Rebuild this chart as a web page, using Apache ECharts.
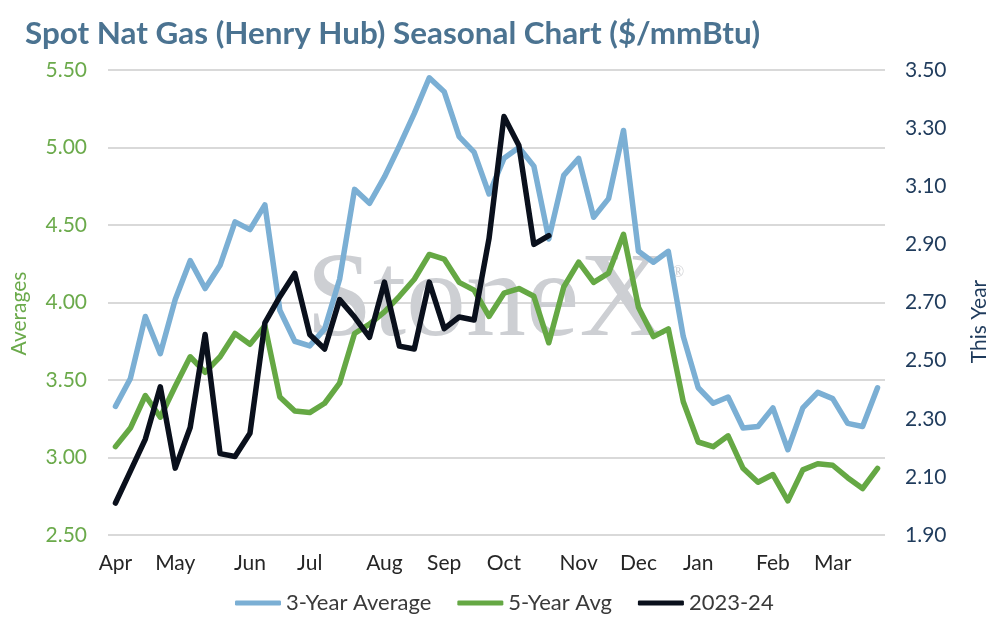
<!DOCTYPE html>
<html><head><meta charset="utf-8">
<script src="https://cdn.jsdelivr.net/npm/echarts@6/dist/echarts.min.js"></script>
<style>html,body{margin:0;padding:0;background:#fff}#c{width:993px;height:617px}</style>
</head><body><div id="c"></div>
<script>
const weekLabels = ['Apr','','','','May','','','','','Jun','','','','Jul','','','','','Aug','','','','Sep','','','','Oct','','','','','Nov','','','','Dec','','','','Jan','','','','','Feb','','','','Mar','','',''];
const threeYearAvg = [3.33,3.51,3.91,3.67,4.02,4.27,4.09,4.24,4.52,4.47,4.63,3.95,3.75,3.72,3.83,4.15,4.73,4.64,4.81,5.01,5.22,5.45,5.36,5.07,4.97,4.70,4.93,5.00,4.88,4.41,4.82,4.93,4.55,4.67,5.11,4.33,4.26,4.33,3.78,3.45,3.35,3.39,3.19,3.20,3.32,3.05,3.32,3.42,3.38,3.22,3.20,3.45];
const fiveYearAvg = [3.07,3.19,3.40,3.26,3.46,3.65,3.55,3.65,3.80,3.73,3.85,3.39,3.30,3.29,3.35,3.48,3.80,3.86,3.94,4.04,4.15,4.31,4.28,4.13,4.08,3.91,4.06,4.09,4.04,3.74,4.10,4.26,4.13,4.19,4.44,3.97,3.78,3.83,3.36,3.10,3.07,3.14,2.93,2.84,2.89,2.72,2.92,2.96,2.95,2.87,2.80,2.93];
const thisYear = [2.01,2.12,2.23,2.41,2.13,2.27,2.59,2.18,2.17,2.25,2.63,2.72,2.80,2.59,2.54,2.71,2.65,2.58,2.77,2.55,2.54,2.77,2.61,2.65,2.64,2.92,3.34,3.24,2.90,2.93];
const seriesNames = ['3-Year Average','5-Year Avg','2023-24'];

const FONT = 'Lato';
const chart = echarts.init(document.getElementById('c'), null, {renderer:'canvas'});
const lineSeries = (name, data, color, axis) => ({
  name, type:'line', data, yAxisIndex: axis, showSymbol:false, symbol:'none',
  lineStyle:{color, width:5.5, cap:'round', join:'round'}, itemStyle:{color}, z: 3 + axis,
  emphasis:{disabled:true}
});
chart.setOption({
  animation:false,
  backgroundColor:'#ffffff',
  title:{text:'Spot Nat Gas (Henry Hub) Seasonal Chart ($/mmBtu)', left:20, top:13,
    textStyle:{fontFamily:FONT, fontWeight:'bold', fontSize:31.4, color:'#4b7391'}},
  grid:{left:108, right:108, top:70, bottom:82, containLabel:false, outerBoundsMode:'none'},
  legend:{left:230, top:587, itemWidth:46, itemHeight:5, itemGap:26, icon:'roundRect',
    textStyle:{fontFamily:FONT, fontSize:22, color:'#3a3a3a'},
    data:seriesNames},
  xAxis:{type:'category', data:weekLabels, boundaryGap:true,
    axisLine:{show:false}, axisTick:{show:false},
    axisLabel:{interval:0, margin:18, fontFamily:FONT, fontSize:21, color:'#262626'}},
  yAxis:[
    {type:'value', min:2.5, max:5.5, interval:0.5, position:'left',
     name:'Averages', nameLocation:'middle', nameRotate:90, nameGap:78,
     nameTextStyle:{fontFamily:FONT, fontSize:21, color:'#6BAA4B', padding:[0,22,0,0]},
     axisLine:{show:false}, axisTick:{show:false},
     splitLine:{lineStyle:{color:'#d9d9d9', width:2}},
     axisLabel:{margin:21, fontFamily:FONT, fontSize:21, color:'#6BAA4B', formatter:v=>v.toFixed(2)}},
    {type:'value', min:1.9, max:3.5, interval:0.1, position:'right',
     name:'This Year', nameLocation:'middle', nameRotate:90, nameGap:84,
     nameTextStyle:{fontFamily:FONT, fontSize:21, color:'#1F3B5C', padding:[0,38,0,0]},
     axisLine:{show:false}, axisTick:{show:false}, splitLine:{show:false},
     axisLabel:{margin:20, fontFamily:FONT, fontSize:21, color:'#1F3B5C',
       formatter:v=> (Math.round(v*10)%2===1 ? v.toFixed(2) : '')}}
  ],
  graphic:[
    {type:'text', silent:true, z:1, style:{text:'StoneX', x:306, y:303, font:'120px "Liberation Serif"', fill:'#cdcfd3', verticalAlign:'middle', align:'left'}},
    {type:'text', silent:true, z:1, style:{text:'®', x:678, y:273, font:'16px "Liberation Serif"', fill:'#cdcfd3', verticalAlign:'middle', align:'center'}}
  ],
  series:[
    lineSeries(seriesNames[0], threeYearAvg, '#7BAFD4', 0),
    lineSeries(seriesNames[1], fiveYearAvg, '#65A844', 0),
    lineSeries(seriesNames[2], thisYear, '#0A101C', 1)
  ]
});
</script></body></html>
